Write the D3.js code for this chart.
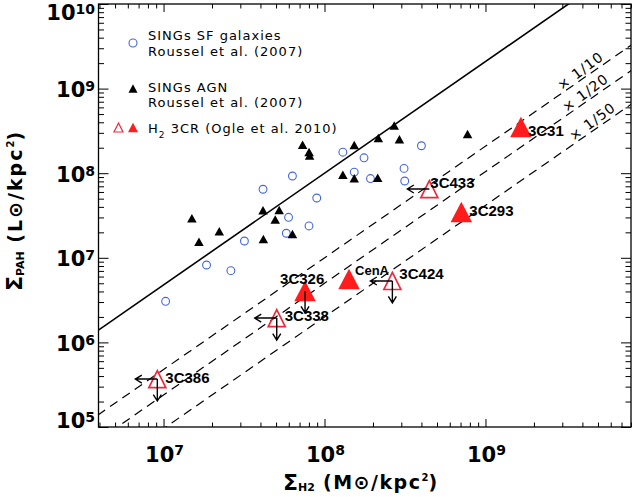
<!DOCTYPE html>
<html><head><meta charset="utf-8">
<script src="https://cdn.jsdelivr.net/npm/d3@7"></script>
<style>html,body{margin:0;padding:0;background:#fff;} svg{display:block;font-family:"DejaVu Sans",sans-serif;}</style>
</head><body><svg id="chart" width="632" height="497"></svg>
<script>
// ---- DATA ----
// SINGs SF galaxies (Roussel et al. 2007)
const sfX = [1.03e7, 1.85e7, 2.62e7, 3.18e7, 4.15e7, 5.79e7, 5.98e7, 6.32e7, 8.01e7, 8.95e7, 1.30e8, 1.53e8, 1.76e8, 1.93e8, 3.12e8, 3.15e8, 4.00e8];
const sfY = [3.06e6, 8.22e6, 7.05e6, 1.58e7, 6.46e7, 1.95e7, 3.01e7, 9.27e7, 2.38e7, 5.09e7, 1.77e8, 1.03e8, 1.52e8, 8.65e7, 1.14e8, 8.09e7, 2.11e8];
// SINGs AGN (Roussel et al. 2007)
const agnX = [1.50e7, 1.66e7, 2.22e7, 4.15e7, 4.17e7, 4.94e7, 5.23e7, 6.32e7, 7.31e7, 8.02e7, 8.08e7, 1.30e8, 1.53e8, 1.53e8, 2.14e8, 2.16e8, 2.71e8, 2.92e8, 7.74e8];
const agnY = [2.93e7, 1.55e7, 2.06e7, 3.64e7, 1.67e7, 2.83e7, 3.67e7, 1.91e7, 2.17e8, 1.78e8, 1.62e8, 9.6e7, 2.15e8, 8.7e7, 8.85e7, 2.61e8, 3.66e8, 2.52e8, 2.90e8];
// H2 3CR (Ogle et al. 2010)
const crNames = ["3C31", "3C433", "3C293", "3C326", "CenA", "3C424", "3C338", "3C386"];
const crX = [1.66e9, 4.48e8, 7.08e8, 7.57e7, 1.42e8, 2.64e8, 5.05e7, 9.15e6];
const crY = [3.52e8, 6.5e7, 3.47e7, 4.06e6, 5.61e6, 5.32e6, 1.94e6, 3.69e5];
const crDetected = [true, false, true, true, true, false, false, false];
const crLimitX = [false, true, false, false, false, true, true, true];
const crLimitY = [false, false, false, true, false, true, true, true];
// SF relation (solid) and scaled copies (dashed)
const relX = [3.9e6, 8.1e9];
const relY = [1.38e6, 3.3e10];
const dashFactors = [10, 20, 50];
const dashLabels = ["× 1/10", "× 1/20", "× 1/50"];
// axis ticks
const xMajor = [1e7, 1e8, 1e9];
const xExp = ["7", "8", "9"];
const yMajor = [1e5, 1e6, 1e7, 1e8, 1e9, 1e10];
const yExp = ["5", "6", "7", "8", "9", "10"];

// ---- STYLE / LAYOUT ----
const W = 632, H = 497;
const M = {left: 98.5, right: 631, top: 4, bottom: 427};
const labelOffset = {"3C31": [7, 9.5, 15], "3C433": [1, -1, 15], "3C293": [8, 4, 15], "3C326": [-25, -6.5, 15],
  "CenA": [6, -4, 13], "3C424": [7, -2, 15], "3C338": [8, 3, 15], "3C386": [8, 3.5, 15]};
const dashLabelPx = [585, 590, 597];
const BLUE = "#4466e0", RED = "#ff1c1c", RED_OPEN = "#f0283c";

const x = d3.scaleLog().domain([Math.pow(10, 6.596), Math.pow(10, 9.904)]).range([M.left, M.right]);
const y = d3.scaleLog().domain([1e5, 1e10]).range([M.bottom, M.top]);

const svg = d3.select("#chart");
svg.append("rect").attr("width", W).attr("height", H).attr("fill", "#fff");
svg.append("defs").append("clipPath").attr("id", "clip").append("rect")
  .attr("x", M.left).attr("y", M.top).attr("width", M.right - M.left).attr("height", M.bottom - M.top);

function minors(lo, hi) {
  const out = [];
  for (let e = lo; e <= hi; e++) for (let m = 2; m <= 9; m++) out.push(m * Math.pow(10, e));
  return out;
}
const xMinor = minors(6, 9).filter(v => v >= x.domain()[0] && v <= x.domain()[1]);
const yMinor = minors(5, 9);

function addAxis(axisGen, transform, values, size) {
  svg.append("g").attr("transform", transform)
    .call(axisGen.tickValues(values).tickSize(-size).tickSizeOuter(0).tickFormat(""))
    .call(g => g.select(".domain").remove())
    .call(g => g.selectAll("line").attr("stroke", "#000").attr("stroke-width", 1));
}
addAxis(d3.axisBottom(x), `translate(0,${M.bottom})`, xMajor, 8);
addAxis(d3.axisBottom(x), `translate(0,${M.bottom})`, xMinor, 4.5);
addAxis(d3.axisTop(x), `translate(0,${M.top})`, xMajor, 8);
addAxis(d3.axisTop(x), `translate(0,${M.top})`, xMinor, 4.5);
addAxis(d3.axisLeft(y), `translate(${M.left},0)`, yMajor, 10);
addAxis(d3.axisLeft(y), `translate(${M.left},0)`, yMinor, 5.5);
addAxis(d3.axisRight(y), `translate(${M.right},0)`, yMajor, 10);
addAxis(d3.axisRight(y), `translate(${M.right},0)`, yMinor, 5.5);

svg.append("rect").attr("x", M.left).attr("y", M.top).attr("width", M.right - M.left).attr("height", M.bottom - M.top)
  .attr("fill", "none").attr("stroke", "#000").attr("stroke-width", 1.3);

// tick labels
xMajor.forEach((v, i) => {
  const t = svg.append("text").attr("x", x(v) + 1).attr("y", 462).attr("text-anchor", "middle")
    .attr("font-weight", "bold").attr("font-size", 21);
  t.append("tspan").text("10");
  t.append("tspan").attr("font-size", 14).attr("dy", -7).text(xExp[i]);
});
yMajor.forEach((v, i) => {
  const by = Math.max(20, Math.min(428, y(v) + 8.5));
  const t = svg.append("text").attr("x", 95).attr("y", by).attr("text-anchor", "end")
    .attr("font-weight", "bold").attr("font-size", 21);
  t.append("tspan").text("10");
  t.append("tspan").attr("font-size", 14).attr("dy", -6).text(yExp[i]);
});

// axis titles
const xt = svg.append("text").attr("x", 283).attr("y", 489).attr("font-weight", "bold");
xt.append("tspan").attr("font-size", 22).attr("dy", 1).text("Σ");
xt.append("tspan").attr("font-size", 11).attr("dy", 1).text("H2");
xt.append("tspan").attr("font-size", 19).attr("dy", -2).attr("letter-spacing", 1.5).text(" (M⊙/kpc");
xt.append("tspan").attr("font-size", 10).attr("dy", -8).text("2");
xt.append("tspan").attr("font-size", 19).attr("dy", 8).text(")");

const yt = svg.append("text").attr("transform", "translate(21.5,211.5) rotate(-90)")
  .attr("text-anchor", "middle").attr("font-weight", "bold");
yt.append("tspan").attr("font-size", 22).text("Σ");
yt.append("tspan").attr("font-size", 11).attr("dy", 2).text("PAH");
yt.append("tspan").attr("font-size", 19).attr("dy", -2).attr("letter-spacing", 2).text(" (L⊙/kpc");
yt.append("tspan").attr("font-size", 10).attr("dy", -8).text("2");
yt.append("tspan").attr("font-size", 19).attr("dy", 8).text(")");

// relation lines
const plot = svg.append("g").attr("clip-path", "url(#clip)");
const line = d3.line().x(d => x(d[0])).y(d => y(d[1]));
const relPts = relX.map((v, i) => [v, relY[i]]);
plot.append("path").attr("d", line(relPts)).attr("fill", "none").attr("stroke", "#000").attr("stroke-width", 1.6);
dashFactors.forEach(f => {
  plot.append("path").attr("d", line(relPts.map(p => [p[0], p[1] / f])))
    .attr("fill", "none").attr("stroke", "#000").attr("stroke-width", 1.2).attr("stroke-dasharray", "9,6");
});
const relSlope = Math.log(relY[1] / relY[0]) / Math.log(relX[1] / relX[0]);
const relAngle = Math.atan2(y(relY[1]) - y(relY[0]), x(relX[1]) - x(relX[0])) * 180 / Math.PI;
dashFactors.forEach((f, i) => {
  const xv = x.invert(dashLabelPx[i]);
  const yv = relY[0] * Math.pow(xv / relX[0], relSlope) / f;
  svg.append("text").attr("transform", `translate(${x(xv)},${y(yv)}) rotate(${relAngle - 2})`)
    .attr("x", 0).attr("y", -3).attr("text-anchor", "middle").attr("font-size", 14)
    .attr("letter-spacing", 1).text(dashLabels[i]);
});

// markers
const tri = (w, h) => `M0,${-h / 2}L${w / 2},${h / 2}L${-w / 2},${h / 2}Z`;
plot.selectAll("circle.sf").data(sfX.map((v, i) => [v, sfY[i]])).join("circle").attr("class", "sf")
  .attr("cx", d => x(d[0])).attr("cy", d => y(d[1])).attr("r", 3.9)
  .attr("fill", "none").attr("stroke", BLUE).attr("stroke-width", 1.1);
plot.selectAll("path.agn").data(agnX.map((v, i) => [v, agnY[i]])).join("path").attr("class", "agn")
  .attr("transform", d => `translate(${x(d[0])},${y(d[1])})`).attr("d", tri(9.5, 8.5)).attr("fill", "#000");

const cr = crNames.map((n, i) => ({name: n, x: crX[i], y: crY[i], det: crDetected[i], lx: crLimitX[i], ly: crLimitY[i]}));
const crG = svg.append("g");
cr.forEach(d => {
  const g = crG.append("g").attr("transform", `translate(${x(d.x)},${y(d.y)})`);
  if (d.det) g.append("path").attr("d", tri(21.5, 20.5)).attr("fill", RED);
  else g.append("path").attr("d", tri(17, 17)).attr("fill", "none").attr("stroke", RED_OPEN).attr("stroke-width", 1.7);
  const L = 22;
  if (d.lx) g.append("path").attr("d", `M0,0H${-L}M${-L + 6.5},-4L${-L},0L${-L + 6.5},4`)
    .attr("fill", "none").attr("stroke", "#000").attr("stroke-width", 1.4);
  if (d.ly) g.append("path").attr("d", `M0,0V${L}M-4,${L - 6.5}L0,${L}L4,${L - 6.5}`)
    .attr("fill", "none").attr("stroke", "#000").attr("stroke-width", 1.4);
  const o = labelOffset[d.name];
  g.append("text").attr("x", o[0]).attr("y", o[1]).attr("font-family", "'Liberation Sans',Arial,sans-serif")
    .attr("font-weight", "bold").attr("font-size", o[2]).attr("fill", "#000").text(d.name);
});

// legend
const lg = svg.append("g").attr("font-size", 13).attr("letter-spacing", 1).attr("fill", "#000");
lg.append("circle").attr("cx", 133).attr("cy", 43).attr("r", 4).attr("fill", "none").attr("stroke", BLUE).attr("stroke-width", 1.1);
lg.append("text").attr("x", 148).attr("y", 39.5).text("SINGs SF galaxies");
lg.append("text").attr("x", 148).attr("y", 56).text("Roussel et al. (2007)");
lg.append("path").attr("transform", "translate(133,88.5)").attr("d", tri(9, 8.5)).attr("fill", "#000");
lg.append("text").attr("x", 148).attr("y", 92).text("SINGs AGN");
lg.append("text").attr("x", 148).attr("y", 106.5).text("Roussel et al. (2007)");
lg.append("path").attr("transform", "translate(118.5,127.5)").attr("d", tri(9, 9)).attr("fill", "none").attr("stroke", RED_OPEN).attr("stroke-width", 1.2);
lg.append("path").attr("transform", "translate(133,127.5)").attr("d", tri(10, 9.5)).attr("fill", RED);
const l3 = lg.append("text").attr("x", 148).attr("y", 132.5);
l3.append("tspan").text("H");
l3.append("tspan").attr("font-size", 9).attr("dy", 5).text("2");
l3.append("tspan").attr("dy", -5).text(" 3CR (Ogle et al. 2010)");
</script></body></html>
